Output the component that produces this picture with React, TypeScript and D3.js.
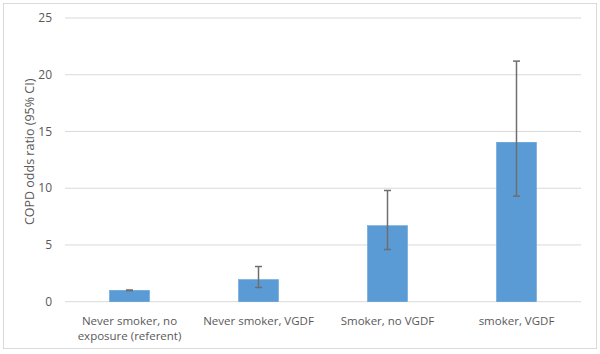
import React from "react";
import * as d3 from "d3";

const categories = [
  ["Never smoker, no", "exposure (referent)"],
  ["Never smoker, VGDF"],
  ["Smoker, no VGDF"],
  ["smoker, VGDF"],
];
const oddsRatios = [1.0, 1.95, 6.7, 14.05];
const ciLower = [0.97, 1.25, 4.6, 9.3];
const ciUpper = [1.03, 3.1, 9.8, 21.2];
const yTicks = [0, 5, 10, 15, 20, 25];
const yTitle = "COPD odds ratio (95% CI)";

export default function App() {
  const W = 600, H = 354;
  const left = 65, right = 581, top = 18, bottom = 301.7;
  const x = d3.scaleBand<number>().domain(d3.range(categories.length)).range([left, right]).paddingInner(0.69).paddingOuter(0.345);
  const y = d3.scaleLinear().domain([0, 25]).range([bottom, top]);
  const font = "'Open Sans', sans-serif";
  const textColor = "#595959";
  return (
    <div style={{ position: "fixed", left: 0, top: 0, width: W, height: H, background: "#fff" }}>
      <svg width={W} height={H} style={{ display: "block" }}>
        <rect x={0} y={0} width={W} height={H} fill="#fff" />
        <rect x={3.5} y={3.5} width={593} height={345} fill="#fff" stroke="#d9d9d9" strokeWidth={1} />
        {yTicks.map((t) => (
          <g key={t}>
            <line x1={left} x2={right} y1={y(t)} y2={y(t)} stroke="#d9d9d9" strokeWidth={1} />
            <text x={52} y={y(t)} dy="0.35em" textAnchor="end" fontFamily={font} fontSize={12} fill={textColor}>{t}</text>
          </g>
        ))}
        {oddsRatios.map((v, i) => (
          <rect key={i} x={x(i)!} y={y(v)} width={x.bandwidth()} height={y(0) - y(v)} fill="#5b9bd5" stroke="#5b9bd5" strokeWidth={0.5} />
        ))}
        {oddsRatios.map((v, i) => {
          const cx = x(i)! + x.bandwidth() / 2;
          return (
            <g key={i} stroke="#6e6e6e" strokeWidth={1.5}>
              <line x1={cx} x2={cx} y1={y(ciUpper[i])} y2={y(ciLower[i])} />
              <line x1={cx - 3.5} x2={cx + 3.5} y1={y(ciUpper[i])} y2={y(ciUpper[i])} />
              <line x1={cx - 3.5} x2={cx + 3.5} y1={y(ciLower[i])} y2={y(ciLower[i])} />
            </g>
          );
        })}
        {categories.map((lines, i) => {
          const cx = x(i)! + x.bandwidth() / 2;
          return (
            <text key={i} x={cx} y={321} textAnchor="middle" fontFamily={font} fontSize={11.5} fill={textColor}>
              {lines.map((l, j) => (
                <tspan key={j} x={cx} dy={j === 0 ? "0.35em" : 15}>{l}</tspan>
              ))}
            </text>
          );
        })}
        <text transform={`translate(30,${(top + bottom) / 2 - 8}) rotate(-90)`} textAnchor="middle" dy="0.35em" fontFamily={font} fontSize={12.5} fill={textColor}>{yTitle}</text>
      </svg>
    </div>
  );
}
